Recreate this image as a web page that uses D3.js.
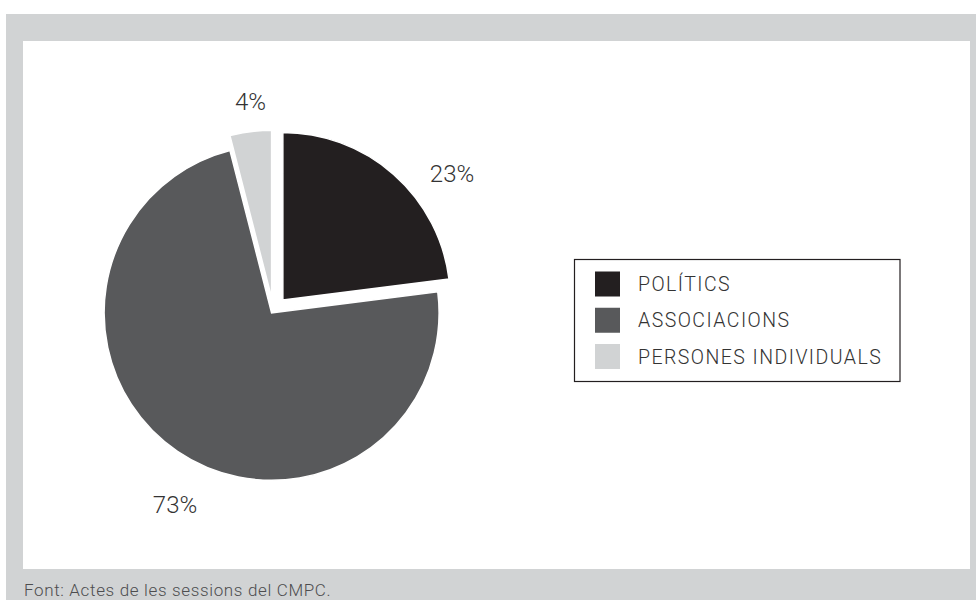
<!DOCTYPE html>
<html><head><meta charset="utf-8">
<script src="https://cdn.jsdelivr.net/npm/d3@7"></script>
<style>body{margin:0;background:#fff;}svg{display:block;font-family:Roboto,"DejaVu Sans",sans-serif;}</style>
</head><body>
<svg id="c" width="976" height="600"></svg>
<script>
const categories = ["POLÍTICS", "ASSOCIACIONS", "PERSONES INDIVIDUALS"];
const values = [23, 73, 4];
const labels = ["23%", "73%", "4%"];
const colors = ["#231f20", "#58595b", "#d1d3d4"];
const source = "Font: Actes de les sessions del CMPC.";

const svg = d3.select("#c");
// frame
svg.append("rect").attr("x",6).attr("y",14).attr("width",970).attr("height",586).attr("fill","#d1d3d4");
svg.append("rect").attr("x",23).attr("y",41).attr("width",947).attr("height",528).attr("fill","#fff");
svg.append("text").attr("x",24).attr("y",596).attr("font-size",17).attr("font-weight",300)
  .attr("letter-spacing",0.65).attr("fill","#4d4d4f").text(source);

const cx = 271.6, cy = 312.8, r = 167.5;
const pie = d3.pie().sort(null).value(d=>d)(values);
const arc = d3.arc().innerRadius(0).outerRadius(r);
const g = svg.append("g").attr("transform",`translate(${cx},${cy})`);
// explode: amount and direction per slice
const explode = [{amt:17, dir:"mid"}, {amt:0, dir:"mid"}, {amt:15, dir:"end"}];
pie.forEach((d,i)=>{
  const e = explode[i];
  const a = e.dir==="mid" ? (d.startAngle+d.endAngle)/2 : d.endAngle;
  const dx = Math.sin(a)*e.amt, dy = -Math.cos(a)*e.amt;
  g.append("path").attr("d",arc(d)).attr("fill",colors[i])
   .attr("stroke","#fff").attr("stroke-width",1.5).attr("stroke-linejoin","miter")
   .attr("transform",`translate(${dx},${dy})`);
});
// labels
const labelPos = [[452,182.3],[175,513],[250.5,110]];
labels.forEach((t,i)=>{
  svg.append("text").attr("x",labelPos[i][0]).attr("y",labelPos[i][1]).attr("text-anchor","middle")
   .attr("font-size",24).attr("font-weight",300).attr("fill","#333").text(t);
});
// legend
const lg = svg.append("g");
lg.append("rect").attr("x",574.5).attr("y",259.5).attr("width",325.5).attr("height",122)
  .attr("fill","#fff").attr("stroke","#231f20").attr("stroke-width",1.2);
const ly = d3.scalePoint().domain(categories).range([284,356.5]);
categories.forEach((c,i)=>{
  lg.append("rect").attr("x",595).attr("y",ly(c)-12.5).attr("width",25).attr("height",25).attr("fill",colors[i]);
  lg.append("text").attr("x",638).attr("y",ly(c)+7).attr("font-size",19.5).attr("font-weight",300)
    .attr("letter-spacing",1.45).attr("fill","#333").text(c);
});
</script>
</body></html>
